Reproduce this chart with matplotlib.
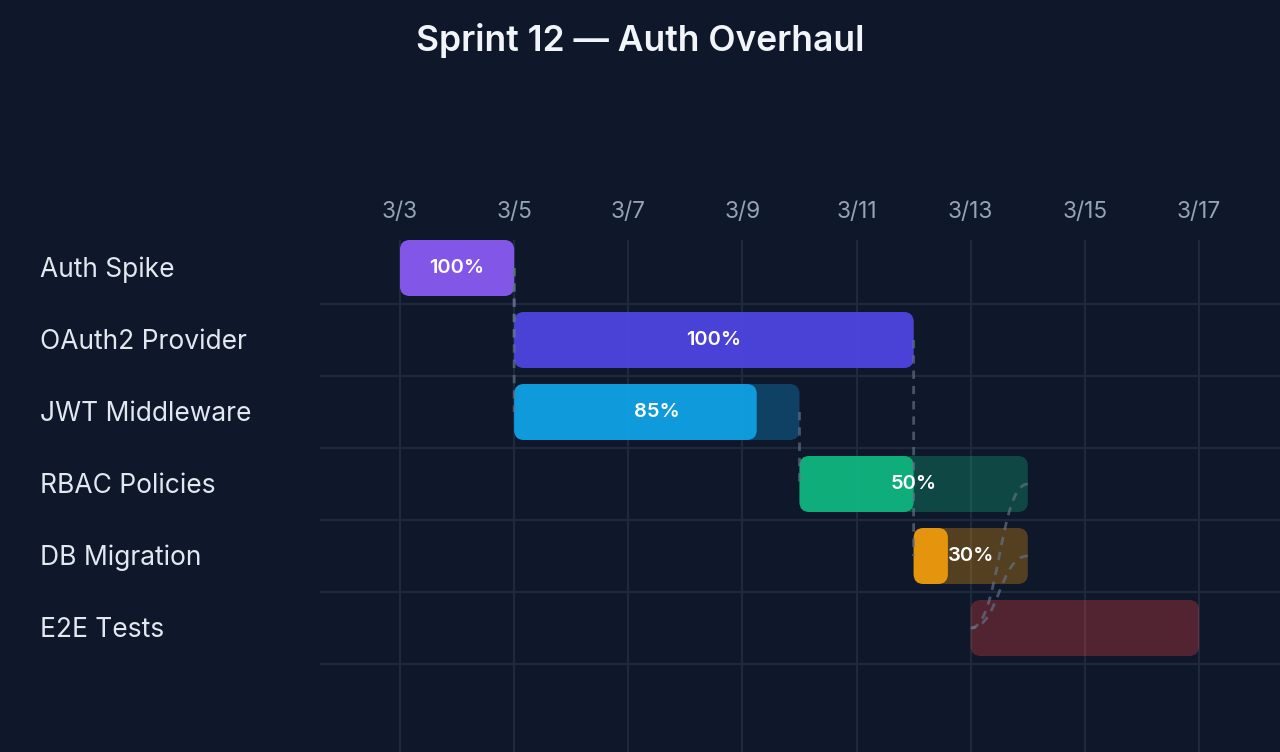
import matplotlib
matplotlib.use("Agg")
import matplotlib.pyplot as plt
from matplotlib.patches import FancyBboxPatch, PathPatch
from matplotlib.path import Path
from matplotlib.transforms import blended_transform_factory

plt.rcParams['font.family'] = ['Inter', 'DejaVu Sans']

# task data (days in March)
tasks = ["Auth Spike", "OAuth2 Provider", "JWT Middleware",
         "RBAC Policies", "DB Migration", "E2E Tests"]
starts = [3, 5, 5, 10, 12, 13]
ends = [5, 12, 10, 14, 14, 17]
progress = [100, 100, 85, 50, 30, 0]
colors = ["#8b5cf6", "#4f46e5", "#0ea5e9", "#10b981", "#f59e0b", "#ef4444"]
# dependencies: (from task index, to task index)
deps = [(0, 1), (0, 2), (1, 4), (2, 3), (3, 5), (4, 5)]
tick_days = [3, 5, 7, 9, 11, 13, 15, 17]
tick_labels = ["3/%d" % d for d in tick_days]

bg = "#0f172a"
grid_c = "#1e293b"

fig = plt.figure(figsize=(12.8, 7.52), dpi=100, facecolor=bg)
ax = fig.add_axes([320 / 1280, 0, 960 / 1280, 512 / 752])
ax.set_facecolor(bg)

px_day = (1199 - 400) / 14
ax.set_xlim(3 - 80 / px_day, 3 + 880 / px_day)
ax.set_ylim(6.5 + 16 / 72, -0.5 + 8 / 72)

for s in ax.spines.values():
    s.set_visible(False)

ax.xaxis.tick_top()
ax.set_xticks(tick_days)
ax.set_xticklabels(tick_labels, fontsize=16.3, color="#94a3b8")
ax.tick_params(axis="x", length=0, pad=12)
ax.set_yticks([])

for d in tick_days:
    ax.axvline(d, color=grid_c, lw=1.6, zorder=0)
for i in range(len(tasks)):
    ax.axhline(i + 0.5, color=grid_c, lw=1.6, zorder=0)

bar_h = 56 / 72
r = 10 / px_day
aspect = (10 / 72) / r

for i, name in enumerate(tasks):
    y0 = i - bar_h / 2
    w = ends[i] - starts[i]
    back = FancyBboxPatch((starts[i], y0), w, bar_h,
                          boxstyle="round,pad=0,rounding_size=%f" % r,
                          mutation_aspect=aspect, fc=colors[i], alpha=0.3,
                          ec="none", zorder=2)
    ax.add_patch(back)
    if progress[i] > 0:
        pw = w * progress[i] / 100
        front = FancyBboxPatch((starts[i], y0), pw, bar_h,
                               boxstyle="round,pad=0,rounding_size=%f" % r,
                               mutation_aspect=aspect, fc=colors[i], alpha=0.9,
                               ec="none", zorder=3)
        ax.add_patch(front)
        ax.text((starts[i] + ends[i]) / 2, i, "%d%%" % progress[i],
                ha="center", va="center", color="white", fontsize=14.5,
                fontweight="semibold", zorder=6)

# dependency connectors
for a, b in deps:
    x1, y1 = ends[a], a
    x2, y2 = starts[b], b
    xm = (x1 + x2) / 2
    path = Path([(x1, y1), (xm, y1), (xm, y2), (x2, y2)],
                [Path.MOVETO, Path.CURVE4, Path.CURVE4, Path.CURVE4])
    ax.add_patch(PathPatch(path, fc="none", ec="#64748b", lw=2, alpha=0.65,
                           ls=(0, (3, 2.5)), zorder=4))

# row labels
trans = blended_transform_factory(fig.transFigure, ax.transData)
for i, name in enumerate(tasks):
    ax.text(40 / 1280, i + 0.03, name, transform=trans, ha="left", va="center",
            fontsize=19, color="#e2e8f0", clip_on=False)

fig.text(0.5, 1 - 40 / 752, "Sprint 12 — Auth Overhaul", ha="center",
         va="center", fontsize=25.5, fontweight="semibold", color="#f1f5f9")

fig.savefig("out.png", dpi=100, facecolor=bg)
